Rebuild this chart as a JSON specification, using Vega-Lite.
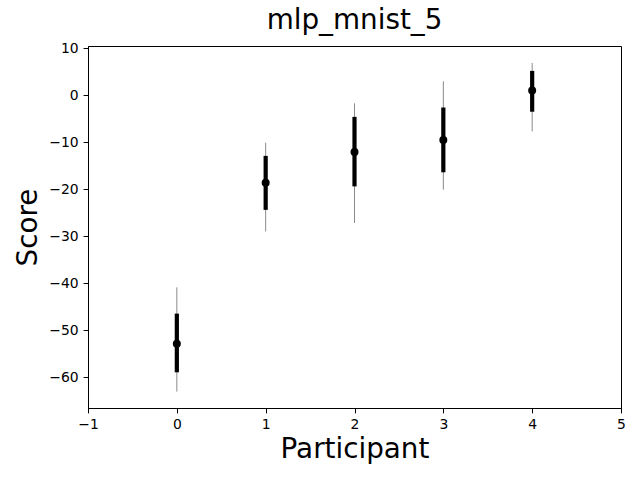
{
  "$schema": "https://vega.github.io/schema/vega-lite/v6.json",
  "autosize": "none",
  "width": 533,
  "height": 362,
  "padding": {"left": 88, "top": 46, "right": 19, "bottom": 72},
  "background": "white",
  "title": {"text": "mlp_mnist_5", "fontSize": 27.8, "font": "DejaVu Sans", "fontWeight": "normal", "offset": 7, "color": "black"},
  "config": {
    "view": {"stroke": "black", "strokeWidth": 1},
    "axis": {
      "domainColor": "black", "tickColor": "black", "tickSize": 4.9, "labelPadding": 4.9,
      "labelFontSize": 13.9, "labelColor": "black", "labelFont": "DejaVu Sans", "labelFlush": false,
      "titleFontSize": 27.8, "titleFont": "DejaVu Sans", "titleFontWeight": "normal", "titleColor": "black",
      "grid": false
    }
  },
  "data": {"values": [
    {"p": 0, "mean": -52.9, "lo": -63.1, "hi": -40.9, "q1": -59.0, "q3": -46.5},
    {"p": 1, "mean": -18.6, "lo": -29.0, "hi": -10.1, "q1": -24.4, "q3": -12.9},
    {"p": 2, "mean": -12.1, "lo": -27.2, "hi": -1.7, "q1": -19.4, "q3": -4.6},
    {"p": 3, "mean": -9.5, "lo": -20.1, "hi": 3.0, "q1": -16.4, "q3": -2.6},
    {"p": 4, "mean": 1.0, "lo": -7.7, "hi": 6.9, "q1": -3.5, "q3": 5.2}
  ]},
  "encoding": {
    "x": {"field": "p", "type": "quantitative", "scale": {"domain": [-1, 5], "nice": false, "zero": false},
          "axis": {"title": "Participant", "values": [-1, 0, 1, 2, 3, 4, 5], "format": "d", "titlePadding": 4}}
  },
  "layer": [
    {"mark": {"type": "rule", "color": "#8a8a8a", "strokeWidth": 1},
     "encoding": {
       "y": {"field": "lo", "type": "quantitative", "scale": {"domain": [-66.6, 10.5], "nice": false, "zero": false},
             "axis": {"title": "Score", "values": [-60, -50, -40, -30, -20, -10, 0, 10], "titlePadding": 6}},
       "y2": {"field": "hi"}
     }},
    {"mark": {"type": "rule", "color": "black", "strokeWidth": 4.2},
     "encoding": {"y": {"field": "q1", "type": "quantitative"}, "y2": {"field": "q3"}}},
    {"mark": {"type": "point", "filled": true, "color": "black", "size": 64, "opacity": 1},
     "encoding": {"y": {"field": "mean", "type": "quantitative"}}}
  ]
}
